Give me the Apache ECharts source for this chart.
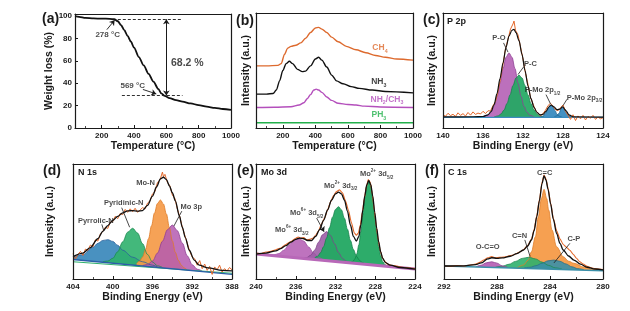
<!doctype html>
<html lang="en">
<head>
<meta charset="UTF-8">
<title>TGA / TPD / XPS</title>
<script src="https://cdn.jsdelivr.net/npm/echarts@6.0.0/dist/echarts.min.js"></script>
<style>html,body{margin:0;padding:0;background:#fff;}</style>
</head>
<body>
<div id="main" style="width:630px;height:311px"></div>
<script>
// ---------- (a) TGA ----------
var tgaCurve = [[35,100],[60,99.5],[100,98.5],[150,98],[200,97.9],[250,97.7],[278,97.3],[300,95.5],[320,92],[340,87.5],[360,82.5],[380,77.5],[400,72],[430,63.5],[460,56],[490,48.5],[520,41.5],[550,35],[569,31],[590,28.7],[620,26.8],[660,25],[700,23.6],[750,22],[800,20.5],[850,19.1],[900,18],[950,17],[1000,16.2]];
var tgaDashes = [[[300,97.3],[690,97.3]], [[325,29.1],[700,29.1]]];
var tgaSpan = [[[600,97.3],[600,29.1]]];
var tgaPointers = [[[232,88],[280,96.5]], [[455,34.5],[538,30.5]]];
var tgaNotes = [[237,83,'278 °C'], [392,38,'569 °C']];
var tgaLoss = [[730,58,'68.2 %']];

// ---------- (b) TPD-MS ----------
var ch4Curve = [[35,54],[100,54],[170,54.5],[190,56],[210,64],[230,69.5],[250,71],[280,72],[310,74],[340,78],[370,83],[400,87],[420,87.5],[440,86],[470,83],[500,79],[540,75],[590,71],[650,68],[710,65.5],[770,63],[830,61.5],[900,60],[1000,59]];
var nh3Curve = [[35,29.5],[100,29.5],[140,30],[160,33],[180,41],[200,50],[220,56],[240,58],[260,56],[290,51],[320,49],[340,49.5],[370,54],[400,60],[420,61.5],[440,59],[470,53],[500,46],[530,41],[570,38.5],[620,36],[670,34.5],[750,33],[830,31.8],[1000,30.5]];
var nhxCurve = [[35,17.8],[150,18],[250,18.5],[300,20],[330,22],[350,25.5],[370,29],[390,33],[405,33.8],[420,33],[440,31],[470,27],[500,24],[540,21.5],[600,20.5],[650,20],[700,19],[800,18.3],[1000,17.8]];
var ph3Curve = [[35,4.6],[300,4.7],[600,4.6],[1000,4.6]];
var gasNotes = [[797,69.8,'CH{s|4}'], [790,40.3,'NH{s|3}'], [840,25,'NH{s|2}/CH{s|3}'], [790,11.3,'PH{s|3}']];

// ---------- (c) P 2p ----------
var p2pRaw = [[140,11.5],[139.75,10.2],[139.5,12.8],[139.25,10.8],[139,11.9],[138.75,10.1],[138.5,13.2],[138.25,11],[138,12.5],[137.75,10.4],[137.5,13.5],[137.25,11.2],[137,14],[136.75,11.8],[136.5,13],[136.25,12.2],[136,14.5],[135.75,12.6],[135.5,15],[135.25,14.8],[135,19.5],[134.75,23],[134.5,31.5],[134.25,43],[134,55.5],[133.75,69],[133.5,77],[133.25,86],[133,90.5],[132.9,93],[132.75,85],[132.5,81],[132.25,70.5],[132,60],[131.75,47.5],[131.5,38],[131.25,26.5],[131,21],[130.75,15.5],[130.5,13],[130.25,10.5],[130,12.5],[129.75,15.5],[129.5,19.5],[129.25,21.5],[129,19],[128.75,16],[128.5,15],[128.25,17.5],[128,20],[127.75,14.5],[127.5,11],[127.25,7.5],[127,11.5],[126.75,6.5],[126.5,10.5],[126.25,8],[126,11],[125.75,7],[125.5,10],[125.25,8.5],[125,11],[124.75,7.5],[124.5,9.5],[124.25,8],[124,9]];
var p2pFit = [[140,9.6],[137,9.8],[136,10],[135.5,11.5],[135.2,14.2],[134.9,20],[134.6,30],[134.3,43],[134,56.5],[133.7,70],[133.4,80],[133.1,85],[132.9,85.8],[132.7,83],[132.4,76],[132.1,64],[131.8,50],[131.5,36.5],[131.2,25.5],[130.9,18],[130.6,13.5],[130.3,11.5],[130,11.8],[129.7,14.5],[129.4,18.5],[129.2,20],[128.9,18.3],[128.6,16],[128.3,16.5],[128.05,18.5],[127.7,15],[127.4,11.5],[127,9.8],[124,9.4]];
var p2pBase = [[140,9.3],[124,9.3]];
var pOPeak = [[136,9.7],[135.5,11.1],[135.2,13.7],[134.9,18.9],[134.6,27.5],[134.3,39],[134,51.6],[133.7,61.5],[133.4,65.3],[133.1,61.5],[132.8,51.6],[132.5,39],[132.2,27.5],[131.9,18.9],[131.6,13.7],[131.3,11.1],[130.9,9.7]];
var pCPeak = [[134.9,9.5],[134.5,10.5],[134.2,12.2],[133.9,15.6],[133.6,21.2],[133.3,28.8],[133,37],[132.7,43.5],[132.4,46],[132.1,43.5],[131.8,37],[131.5,28.8],[131.2,21.2],[130.9,15.6],[130.6,12.2],[130.3,10.5],[129.9,9.5]];
var pMo12Peak = [[130.3,9.4],[130,10.3],[129.8,12.1],[129.6,15.1],[129.4,18.3],[129.2,20],[129,18.3],[128.8,15.1],[128.6,12.1],[128.4,10.3],[128.1,9.4]];
var pMo32Peak = [[128.9,9.4],[128.6,10.6],[128.4,12.8],[128.2,16.5],[128,18.5],[127.8,16.5],[127.6,12.8],[127.4,10.6],[127.1,9.4]];
var p2pNotes = [[134.4,78,'P-O'], [131.25,55.4,'P-C'], [130.05,33,'P-Mo 2p{s|1/2}'], [125.85,26.4,'P-Mo 2p{s|3/2}']];
var p2pLeaders = [[[133.95,74],[133.5,66]], [[131.95,53],[132.5,46.5]], [[129.7,29],[129.25,21]], [[127.6,25],[128,19.5]]];

// ---------- (d) N 1s ----------
var n1sRaw = [[404,22],[403.75,17.5],[403.5,21.5],[403.25,24],[403,20.5],[402.75,26],[402.5,25],[402.25,29.5],[402,28],[401.75,34],[401.5,33],[401.25,39],[401,41.5],[400.75,45],[400.5,44],[400.25,49.5],[400,50],[399.75,54.5],[399.5,52.5],[399.25,57],[399,56],[398.75,60.5],[398.5,58],[398.25,61],[398,58.5],[397.75,61.5],[397.5,58],[397.25,60],[397,62],[396.75,61],[396.5,66],[396.25,68],[396,74],[395.75,76],[395.5,84],[395.25,86],[395,93],[394.9,89],[394.75,91],[394.5,84],[394.25,81],[394,73],[393.75,70],[393.5,61],[393.25,54],[393,45],[392.75,38],[392.5,31],[392.25,24],[392,19],[391.75,17.5],[391.5,12],[391.25,16],[391,9],[390.75,13],[390.5,7.5],[390.25,11],[390,4],[389.75,10.5],[389.5,8],[389.25,12],[389,6],[388.75,9],[388.5,7],[388.25,10],[388,8]];
var n1sFit = [[404,19.5],[403,22.5],[402.3,27],[401.5,35],[401,41.5],[400.5,46.5],[400,51],[399.5,54.5],[399,57.5],[398.5,59.2],[398,59.5],[397.5,59],[397,59.5],[396.5,64],[396,72],[395.6,80],[395.2,87],[394.9,88.5],[394.6,86.5],[394.3,81],[394,75],[393.7,68],[393.3,55],[393,45],[392.7,36],[392.3,25],[391.8,16.5],[391.3,12],[390.4,9.6],[389,7.5],[388,7]];
var n1sBase = [[404,17],[388,4]];
var n1sBase2 = [[404,15],[388,5]];
var pyrrolicPeak = [[404,18.3],[403,21.2],[402,27.5],[401.5,31],[401,33.5],[400.5,34.2],[400,32.7],[399.5,29.3],[399,25],[398,19],[397,15],[396,12],[395.5,10.5]];
var pyridinicPeak = [[401,15],[400.5,15.6],[400,18],[399.5,23.7],[399,32.3],[398.5,40.7],[398,44.1],[397.5,39.9],[397,30.7],[396.5,21.3],[396,14.8],[395.5,11.5],[395,10.1]];
var moNPeak = [[397.6,13.5],[397.3,15.5],[397,19.2],[396.7,25.7],[396.4,35.1],[396.1,46.3],[395.8,57.4],[395.5,65.7],[395.2,68.7],[394.9,65.2],[394.6,56.5],[394.3,44.8],[394,33.1],[393.7,23.2],[393.4,16.3],[393.1,12],[392.8,9.6],[392.5,7.7]];
var mo3pPeak = [[397,11.7],[396.5,12.6],[396,15.6],[395.5,22.5],[395,32.8],[394.5,42.8],[394,46.9],[393.5,42],[393,31.2],[392.5,20.1],[392,12.4],[391.5,8.5],[391,6.8]];
var n1sNotes = [[396.7,83.8,'Mo-N'], [398.9,66.3,'Pyridinic-N'], [401.7,50.4,'Pyrrolic-N'], [392.1,62.3,'Mo 3p']];
var n1sLeaders = [[[399.1,62],[398.3,45]], [[401.1,47.5],[400.9,42]], [[393.05,59],[393.85,46]]];

// ---------- (e) Mo 3d ----------
var mo3dRaw = [[240,22.5],[239.5,22],[239,23.5],[238.5,24],[238,25.5],[237.5,27],[237,30],[236.5,32.5],[236,35.5],[235.75,36.5],[235.5,35.5],[235.2,36],[234.9,34],[234.6,34.5],[234.3,35.5],[234,38],[233.7,42],[233.4,48],[233.1,53],[232.8,60],[232.5,67],[232.2,72.5],[231.9,76],[231.6,77.5],[231.3,75],[231,68],[230.7,60],[230.4,49],[230.1,40],[229.9,38],[229.7,40],[229.5,47],[229.3,58],[229.1,70],[228.9,80],[228.7,86.5],[228.5,84],[228.3,74],[228.1,60],[227.9,46],[227.7,34],[227.5,25],[227.3,19],[227.1,16],[226.8,13],[226.4,12],[226,11.5],[225.5,10.5],[225,10],[224.5,9.5],[224,9]];
var mo3dFit = [[240,21.7],[239,22.5],[238,24.5],[237.5,26.5],[237,29],[236.5,32],[236,34.5],[235.6,35.6],[235.2,35],[234.8,33.5],[234.4,33.5],[234,37],[233.6,43],[233.2,51],[232.8,60],[232.4,68.5],[232,74],[231.7,75.5],[231.4,74],[231.1,68.5],[230.8,59],[230.5,47],[230.2,37],[229.9,33],[229.65,37],[229.45,47],[229.25,60],[229.05,72.5],[228.85,82],[228.65,85.5],[228.45,82],[228.25,72],[228.05,58],[227.85,44],[227.65,32],[227.45,23.5],[227.25,18],[227,14.5],[226.5,12],[225.5,10],[224,8.6]];
var mo3dBase = [[240,21.7],[224,8.6]];
var mo6d32Peak = [[238.7,20.8],[238.2,21],[237.7,22.1],[237.2,25],[236.7,29.4],[236.2,33.8],[235.7,35.4],[235.2,33],[234.7,27.8],[234.2,22.5],[233.7,18.8],[233.2,16.9],[232.7,15.7]];
var mo6d52Peak = [[235.3,18.2],[234.9,18.6],[234.5,20.6],[234.1,25.1],[233.7,32],[233.3,38.5],[232.9,41.2],[232.5,37.9],[232.1,30.7],[231.7,23.1],[231.3,18],[230.9,15.4],[230.5,14]];
var mo2d32Peak = [[234.1,18.3],[233.8,19.8],[233.5,22.9],[233.2,28.1],[232.9,35.6],[232.6,44.7],[232.3,53.8],[232,60.5],[231.7,62.9],[231.4,60.1],[231.1,52.8],[230.8,43.3],[230.5,33.6],[230.2,25.7],[229.9,19.9],[229.6,16.4],[229.3,14.3],[229,12.7]];
var mo2d52Peak = [[230.45,14.5],[230.25,15.3],[230.05,17.4],[229.85,22],[229.65,29.7],[229.45,41.2],[229.25,55.7],[229.05,70.3],[228.85,81.5],[228.65,85.5],[228.45,81.1],[228.25,69.7],[228.05,54.7],[227.85,39.9],[227.65,28.1],[227.45,20],[227.25,15.1],[227.05,12.7],[226.85,11.5]];
var mo3dNotes = [[227.86,91.3,'Mo{u|2+} 3d{s|5/2}'], [231.48,80.9,'Mo{u|2+} 3d{s|3/2}'], [234.9,57.1,'Mo{u|6+} 3d{s|5/2}'], [236.4,42.6,'Mo{u|6+} 3d{s|3/2}']];
var mo3dLeaders = [[[233.9,53],[233.15,41]]];

// ---------- (f) C 1s ----------
var c1sRaw = [[292,11.5],[291.5,11],[291,11.8],[290.5,11.3],[290,12.2],[289.6,13],[289.3,14.5],[289,16.5],[288.7,18.5],[288.4,19.5],[288.1,18.5],[287.8,18.8],[287.5,19],[287.2,19.8],[286.9,20.5],[286.6,21.8],[286.3,23.5],[286,25.5],[285.7,29],[285.4,34.5],[285.2,43],[285,55],[284.8,69],[284.6,84],[284.45,90.5],[284.3,87],[284.15,79],[283.95,66],[283.75,53],[283.5,42],[283.25,35],[283,30],[282.75,27.5],[282.5,25],[282.25,21.5],[282,18],[281.75,15],[281.5,13],[281.2,11],[280.9,9.8],[280.6,9],[280.3,8.6],[280,8.3]];
var c1sFit = [[292,11.3],[290.5,11.5],[289.6,12.5],[289.2,14],[288.7,17.5],[288.4,18.5],[288,18],[287.6,18.3],[287,19.8],[286.5,22],[286,25.2],[285.7,28.5],[285.4,33.9],[285.2,42],[285,54],[284.8,68],[284.6,83],[284.45,89.6],[284.3,86],[284.15,78],[283.95,65],[283.75,52],[283.5,39.7],[283.25,31],[283,25.2],[282.6,20],[282.2,16.5],[281.7,13],[281.2,10.2],[280.6,8.7],[280,8]];
var c1sBase = [[292,11.3],[280,7.2]];
var occoPeak = [[289.6,10.5],[289.2,12],[288.8,14.1],[288.4,15],[288,13.8],[287.6,11.4],[287.2,10.1]];
var cnPeak = [[288.1,10.3],[287.6,11.1],[287.1,12.8],[286.6,15.3],[286.1,17.9],[285.6,18.9],[285.1,17.5],[284.6,14.7],[284.1,11.8],[283.6,9.7],[283.1,8.7]];
var ccPeak = [[286.5,9.5],[286,12.2],[285.64,16.5],[285.4,23.7],[285.1,36.8],[284.88,54.2],[284.65,70],[284.45,78],[284.25,70],[284.1,60],[283.85,42.6],[283.5,28],[283,19.4],[282.6,15.5],[282.2,13.7],[281.4,10.2],[280.8,8.5],[280,7.5]];
var cpPeak = [[285.95,9.7],[285.5,10.2],[285.05,11.6],[284.6,13.7],[284.15,15.8],[283.7,16.5],[283.25,15.4],[282.8,13.1],[282.35,10.6],[281.9,9],[281.45,8.1]];
var c1sNotes = [[284.4,92.2,'C=C'], [286.3,37.4,'C=N'], [288.7,27.5,'O-C=O'], [282.2,34.5,'C-P']];
var c1sLeaders = [[[285.9,34],[285.5,19.5]], [[282.5,31],[283.7,14]]];

// ---------- layout ----------
var FF = 'Liberation Sans';
var INK = '#1a1a1a';
var ORANGE = '#e4682a';
var grids = [
  {left: 75, top: 14, width: 156, height: 114},
  {left: 256, top: 13, width: 157, height: 115},
  {left: 443, top: 13, width: 160, height: 115},
  {left: 73, top: 164, width: 159, height: 115},
  {left: 256, top: 164, width: 159, height: 115},
  {left: 444, top: 164, width: 159, height: 115}
];
var xRanges = [[35,1000],[35,1000],[124,140],[388,404],[224,240],[280,292]];
var xNames = ['Temperature (°C)','Temperature (°C)','Binding Energy (eV)','Binding Energy (eV)','Binding Energy (eV)','Binding Energy (eV)'];
var yNames = ['Weight loss (%)','Intensity (a.u.)','Intensity (a.u.)','Intensity (a.u.)','Intensity (a.u.)','Intensity (a.u.)'];
var yNameGaps = [19, 4, 5, 17, 4, 6];
var panelTags = [['(a)',42,12],['(b)',236,14],['(c)',423,13],['(d)',43,164],['(e)',237,164],['(f)',425,164]];
var panelTitles = [['P 2p',447,17],['N 1s',78,168],['Mo 3d',261,168],['C 1s',448,168]];

var xAxes = [], yAxes = [];
grids.forEach(function (g, i) {
  var xps = i >= 2;
  xAxes.push({
    gridIndex: i, type: 'value', position: 'bottom', z: 10,
    min: xRanges[i][0], max: xRanges[i][1], interval: xps ? 4 : undefined, inverse: xps,
    name: xNames[i], nameLocation: 'middle', nameGap: 12,
    nameTextStyle: {fontFamily: FF, fontWeight: 'bold', fontSize: 10.5, color: INK},
    axisLine: {onZero: false, lineStyle: {color: INK, width: 1.2}},
    axisTick: {inside: true, length: 3, lineStyle: {color: INK, width: 1}},
    minorTick: {show: true, splitNumber: 2, length: 2, lineStyle: {color: INK, width: 0.8}},
    splitLine: {show: false},
    axisLabel: {fontFamily: FF, fontWeight: 'bold', fontSize: 8, color: INK, margin: 4, showMinLabel: xps,
      formatter: function (v) { return String(v); }}
  });
  yAxes.push({
    gridIndex: i, type: 'value', position: 'left', z: 10,
    min: 0, max: i === 0 ? 102 : 100, interval: 20,
    name: yNames[i], nameLocation: 'middle', nameGap: yNameGaps[i],
    nameTextStyle: {fontFamily: FF, fontWeight: 'bold', fontSize: 10.5, color: INK},
    axisLine: {show: true, onZero: false, lineStyle: {color: INK, width: 1.2}},
    axisTick: {show: i === 0, inside: true, length: 3, lineStyle: {color: INK}},
    splitLine: {show: false},
    axisLabel: {show: i === 0, showMaxLabel: false, fontFamily: FF, fontWeight: 'bold', fontSize: 8, color: INK, margin: 3}
  });
});
grids.forEach(function (g, i) {
  var frame = {show: true, onZero: false, lineStyle: {color: INK, width: 1.2}};
  xAxes.push({gridIndex: i, type: 'value', position: 'top', z: 10, axisLine: frame,
    axisTick: {show: false}, axisLabel: {show: false}, splitLine: {show: false}});
  yAxes.push({gridIndex: i, type: 'value', position: 'right', z: 10, axisLine: frame,
    axisTick: {show: false}, axisLabel: {show: false}, splitLine: {show: false}});
});

var series = [];
function curve(gi, data, color, width, smooth) {
  series.push({type: 'line', xAxisIndex: gi, yAxisIndex: gi, data: data, showSymbol: false, symbol: 'none',
    smooth: smooth, smoothMonotone: 'x', silent: true, lineStyle: {color: color, width: width}});
}
function peak(gi, data, fill, edge, opacity) {
  series.push({type: 'line', xAxisIndex: gi, yAxisIndex: gi, data: data, showSymbol: false, symbol: 'none',
    smooth: 0.35, smoothMonotone: 'x', silent: true,
    lineStyle: {color: edge, width: 0.8}, areaStyle: {color: fill, opacity: opacity, origin: 'start'}});
}
function blank(gi, data) {
  series.push({type: 'line', xAxisIndex: gi, yAxisIndex: gi, data: data, showSymbol: false, symbol: 'none',
    silent: true, lineStyle: {width: 0}, areaStyle: {color: '#fff', opacity: 1, origin: 'start'}});
}
function richFor(color, size) {
  var sub = {fontFamily: FF, fontWeight: 'bold', fontSize: size * 0.62, color: color, verticalAlign: 'bottom', lineHeight: size * 0.8};
  var sup = {fontFamily: FF, fontWeight: 'bold', fontSize: size * 0.62, color: color, verticalAlign: 'top', lineHeight: size * 0.8};
  return {s: sub, u: sup};
}
function notes(gi, list, color, size, align) {
  series.push({type: 'scatter', xAxisIndex: gi, yAxisIndex: gi, symbolSize: 0, silent: true, z: 6,
    data: list.map(function (d) {
      return {value: [d[0], d[1]], label: {show: true, position: 'inside', formatter: d[2], color: color,
        fontFamily: FF, fontWeight: 'bold', fontSize: size, lineHeight: size + 4, align: align || 'center',
        rich: richFor(color, size)}};
    })});
}
function leaders(gi, list, arrow, dashed, width) {
  series.push({type: 'lines', coordinateSystem: 'cartesian2d', xAxisIndex: gi, yAxisIndex: gi, silent: true, z: 6,
    symbol: arrow, symbolSize: 5,
    lineStyle: {color: INK, width: width || 0.8, opacity: 1, type: dashed ? [3, 2] : 'solid', curveness: 0},
    data: list.map(function (c) { return {coords: c}; })});
}

// (a)
curve(0, tgaCurve, '#111', 1.8, 0.3);
leaders(0, tgaDashes, ['none', 'none'], true, 0.9);
leaders(0, tgaSpan, ['arrow', 'arrow'], false, 1);
leaders(0, tgaPointers, ['none', 'arrow'], false, 0.9);
notes(0, tgaNotes, INK, 8);
notes(0, tgaLoss, INK, 10.5);

// (b)
curve(1, ch4Curve, '#dd6a2e', 1.4, 0.3);
curve(1, nh3Curve, '#111', 1.4, 0.3);
curve(1, nhxCurve, '#b44fbc', 1.4, 0.3);
curve(1, ph3Curve, '#22b04b', 1.4, 0);
notes(1, gasNotes.slice(0, 1), '#dd6a2e', 8.5);
notes(1, gasNotes.slice(1, 2), '#111', 8.5);
notes(1, gasNotes.slice(2, 3), '#b44fbc', 8.5);
notes(1, gasNotes.slice(3, 4), '#22b04b', 8.5);

// (c)
peak(2, pOPeak, '#b868b8', '#8e3f93', 0.95);
peak(2, pCPeak, '#22a862', '#15824a', 0.92);
peak(2, pMo12Peak, '#3a8bbf', '#23658f', 0.95);
peak(2, pMo32Peak, '#3a8bbf', '#23658f', 0.95);
blank(2, p2pBase);
curve(2, p2pBase, '#3a8bbf', 1.2, 0);
curve(2, p2pRaw, ORANGE, 1, 0);
curve(2, p2pFit, '#111', 1.2, 0.3);
notes(2, p2pNotes, INK, 7.5);
leaders(2, p2pLeaders, ['none', 'none']);

// (d)
peak(3, pyrrolicPeak, '#3a88bb', '#2a5e9a', 0.92);
peak(3, pyridinicPeak, '#2fb06d', '#1d8a50', 0.9);
peak(3, moNPeak, '#f59a48', '#de7a25', 0.92);
peak(3, mo3pPeak, '#b45ab0', '#8e3f93', 0.85);
blank(3, n1sBase2);
blank(3, n1sBase);
curve(3, n1sBase2, '#2fb06d', 1.2, 0);
curve(3, n1sBase, '#2a5ea8', 1.4, 0);
curve(3, n1sRaw, ORANGE, 1, 0);
curve(3, n1sFit, '#111', 1.3, 0.3);
notes(3, n1sNotes, INK, 7.5);
leaders(3, n1sLeaders, ['none', 'none']);

// (e)
peak(4, mo6d32Peak, '#bb6cba', '#a050a3', 0.95);
peak(4, mo6d52Peak, '#9c5ea6', '#7f4189', 0.9);
peak(4, mo2d32Peak, '#22a862', '#15824a', 0.95);
peak(4, mo2d52Peak, '#22a862', '#15824a', 0.95);
blank(4, mo3dBase);
curve(4, mo3dBase, '#b868b8', 3, 0);
curve(4, mo3dRaw, ORANGE, 1.1, 0.2);
curve(4, mo3dFit, '#111', 1.3, 0.3);
notes(4, mo3dNotes, INK, 7.5);
leaders(4, mo3dLeaders, ['none', 'arrow']);

// (f)
peak(5, ccPeak, '#f59b48', '#e07c27', 0.95);
peak(5, cnPeak, '#2fb06d', '#1d8a50', 0.9);
peak(5, cpPeak, '#3a8fa8', '#2a6e88', 0.9);
peak(5, occoPeak, '#b45ab0', '#8e3f93', 0.9);
blank(5, c1sBase);
curve(5, c1sBase, '#3a8fa8', 1.6, 0);
curve(5, c1sRaw, ORANGE, 1.1, 0.2);
curve(5, c1sFit, '#111', 1.3, 0.3);
notes(5, c1sNotes, INK, 7.5);
leaders(5, c1sLeaders, ['none', 'none']);

var graphics = panelTags.map(function (t) {
  return {type: 'text', left: t[1], top: t[2], silent: true,
    style: {text: t[0], font: 'bold 14px "Liberation Sans"', fill: INK}};
}).concat(panelTitles.map(function (t) {
  return {type: 'text', left: t[1], top: t[2], silent: true, z: 20,
    style: {text: t[0], font: 'bold 9px "Liberation Sans"', fill: INK}};
}));

var chart = echarts.init(document.getElementById('main'));
chart.setOption({
  animation: false,
  backgroundColor: '#fff',
  grid: grids.map(function (g) {
    return {left: g.left, top: g.top, width: g.width, height: g.height, containLabel: false, outerBoundsMode: 'none'};
  }),
  xAxis: xAxes,
  yAxis: yAxes,
  series: series,
  graphic: graphics
});
</script>
</body>
</html>
